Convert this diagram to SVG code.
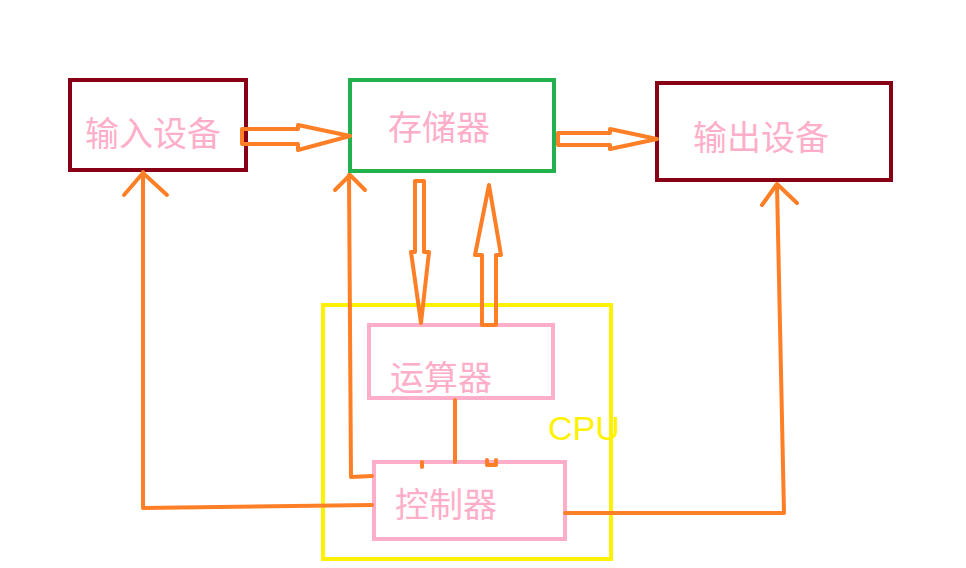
<svg xmlns="http://www.w3.org/2000/svg" width="966" height="568" viewBox="0 0 966 568">
<style>
.dev{fill:none;stroke:#880015;stroke-width:4}
.mem{fill:none;stroke:#22b14c;stroke-width:4}
.cpu{fill:none;stroke:#fff200;stroke-width:4}
.unit{fill:none;stroke:#ffaec9;stroke-width:4}
.lbl{fill:#ffaec9;font-family:"Noto Sans CJK SC","Noto Sans",sans-serif;font-size:34px}
.cpuT{fill:#fff200;font-family:"Liberation Sans",sans-serif;font-size:34px}
.c path,.c polyline,.c line{fill:none;stroke:#ff7f27;stroke-width:4;stroke-linejoin:round;stroke-linecap:round}
</style>
<rect width="966" height="568" fill="#fff"/>
<g id="cpu"><rect class="cpu" x="323" y="305" width="288" height="254"/><text class="cpuT" x="548" y="440">CPU</text></g>
<g id="input"><rect class="dev" x="70" y="80" width="176" height="90"/><text class="lbl" x="85" y="146">输入设备</text></g>
<g id="memory"><rect class="mem" x="350" y="80" width="204" height="91"/><text class="lbl" x="388" y="140">存储器</text></g>
<g id="output"><rect class="dev" x="657" y="83" width="234" height="97"/><text class="lbl" x="693" y="150">输出设备</text></g>
<g id="alu"><rect class="unit" x="369" y="325" width="184" height="73"/><text class="lbl" x="390" y="390">运算器</text></g>
<g id="ctrl"><rect class="unit" x="374" y="462" width="191" height="77"/><text class="lbl" x="395" y="517">控制器</text></g>
<g id="connectors" class="c">
<path d="M242,129 L298,129 L298,125 L350,136 L298,150 L298,144 L242,144 Z"/>
<path d="M558,133 L610,133 L610,129 L657,139 L610,149 L610,145 L558,145 Z"/>
<path d="M415,181 L424,181 L424,252 L429,252 L421,323 L411,252 L415,252 Z"/>
<path d="M482,325 L496,325 L496,255 L501,255 L489,185 L475,255 L482,255 Z"/>
<polyline points="372,505 143,508 143,172"/>
<polyline points="124,195 143,173 167,195"/>
<polyline points="372,476 351,477 349,175"/>
<polyline points="335,190 350,175 365,190"/>
<polyline points="565,513 784,513 777,185"/>
<polyline points="762,205 777,184 797,203"/>
<line x1="455" y1="400" x2="455" y2="462"/>
<line x1="422" y1="462" x2="422" y2="467"/>
<polyline points="487,460 487,465 496,465 496,460"/>
</g>
</svg>
